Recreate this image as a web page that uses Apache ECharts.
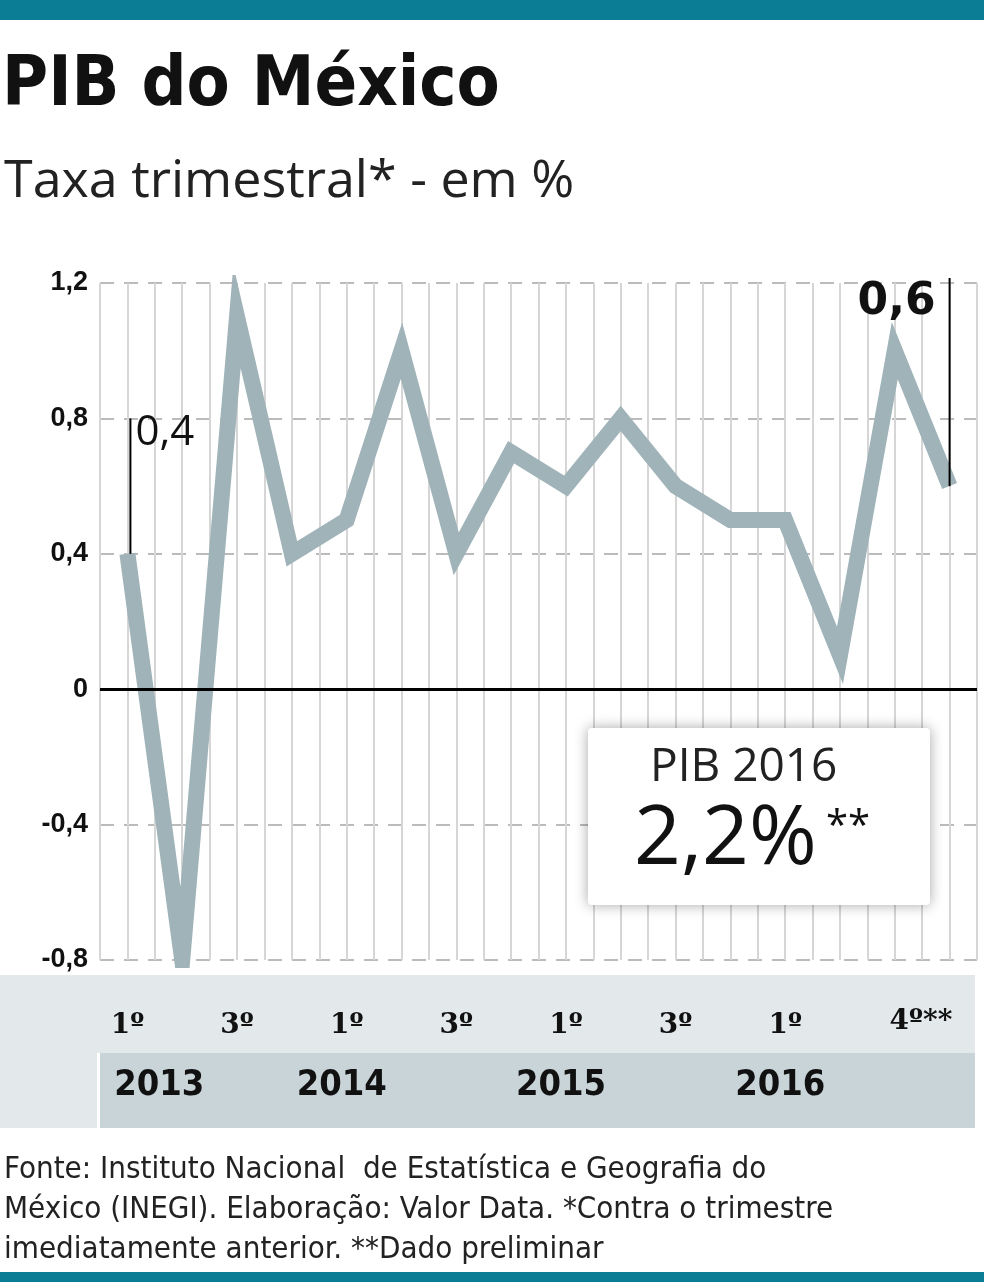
<!DOCTYPE html>
<html lang="pt">
<head>
<meta charset="UTF-8">
<title>PIB do México</title>
<style>
  body { margin: 0; background: #fff; }
  #main { width: 984px; height: 1282px; }
</style>
</head>
<body>
<div id="main"></div>
<script src="https://cdn.jsdelivr.net/npm/echarts@6/dist/echarts.min.js"></script>
<script>
    // quarterly GDP rate, 2013 Q1 .. 2016 Q4
    const values = [0.4, -0.8, 1.1, 0.4, 0.5, 1.0, 0.4, 0.7, 0.6, 0.8, 0.6, 0.5, 0.5, 0.1, 1.0, 0.6];
    const quarterLabels = { 0: '1º', 2: '3º', 4: '1º', 6: '3º', 8: '1º', 10: '3º', 12: '1º' };
    const lastLabel = '4º**';
    const years = [['2013', 0.67], ['2014', 4], ['2015', 8], ['2016', 12]];

    const teal = '#0b7d94';
    const chart = echarts.init(document.getElementById('main'));
    const fmt = v => String(Math.round(v * 10) / 10).replace('.', ',');

    chart.setOption({
        animation: false,
        grid: { left: 100, right: 7, top: 283, bottom: 322 },
        xAxis: {
            type: 'value', min: -0.5, max: 15.5, interval: 0.5,
            axisLine: { show: false }, axisTick: { show: false },
            splitLine: { lineStyle: { color: '#d6d6d6', width: 2 } },
            axisLabel: {
                margin: 52, fontFamily: 'DejaVu Serif', fontWeight: 'bold', fontSize: 28, color: '#111',
                formatter: v => quarterLabels[v] || ''
            }
        },
        yAxis: {
            type: 'value', min: -0.8, max: 1.2, interval: 0.4,
            axisLine: { show: false }, axisTick: { show: false },
            splitLine: { lineStyle: { color: '#bbb', type: [14, 10], width: 2 } },
            axisLabel: {
                margin: 12, fontFamily: 'Liberation Sans', fontWeight: 'bold', fontSize: 27, color: '#111',
                formatter: fmt
            }
        },
        series: [{
            type: 'line',
            data: values.map((v, i) => [i, v]),
            symbol: 'none',
            lineStyle: { color: '#9fb3b9', width: 16, join: 'miter' },
            z: 3,
            markLine: {
                silent: true, symbol: 'none', label: { show: false },
                lineStyle: { color: '#000', type: 'solid', width: 3 },
                data: [{ yAxis: 0 }]
            }
        }],
        graphic: [
            { type: 'rect', shape: { x: 0, y: 0, width: 984, height: 20 }, style: { fill: teal } },
            { type: 'rect', shape: { x: 0, y: 1272, width: 984, height: 10 }, style: { fill: teal } },
            { type: 'text', left: 2, top: 52, style: { text: 'PIB do México', font: 'bold 70px "DejaVu Sans Condensed"', fill: '#111' } },
            { type: 'text', left: 4, top: 156, style: { text: 'Taxa trimestral* - em %', font: '52px "Open Sans"', fill: '#222' } },
            { type: 'rect', z: -1, shape: { x: 0, y: 975, width: 975, height: 78 }, style: { fill: '#e3e8ea' } },
            { type: 'rect', z: -1, shape: { x: 100, y: 1053, width: 875, height: 75 }, style: { fill: '#c9d4d8' } },
            { type: 'rect', z: -1, shape: { x: 0, y: 1053, width: 97, height: 75 }, style: { fill: '#e3e8ea' } },
            { type: 'rect', z: 10, shape: { x: 588, y: 728, width: 342, height: 177, r: 4 },
              style: { fill: '#fff', shadowBlur: 14, shadowColor: 'rgba(0,0,0,0.35)' } },
            { type: 'text', z: 11, left: 650, top: 745, style: { text: 'PIB 2016', font: '46px "Open Sans"', fill: '#222' } },
            { type: 'text', z: 11, left: 634, top: 800, style: { text: '2,2%', font: '82px "Open Sans"', fill: '#111' } },
            { type: 'text', z: 11, left: 826, top: 808, style: { text: '**', font: '40px "Open Sans"', fill: '#111' } },
            { type: 'text', left: 4, top: 1150, style: {
                text: 'Fonte: Instituto Nacional  de Estatística e Geografia do\nMéxico (INEGI). Elaboração: Valor Data. *Contra o trimestre\nimediatamente anterior. **Dado preliminar',
                font: '31px "DejaVu Sans Condensed"', fill: '#222', lineHeight: 40 } }
        ]
    });

    // year labels, last quarter label and value annotations placed through the chart's scales
    const px = (x, y) => chart.convertToPixel({ gridIndex: 0 }, [x, y]);
    const extra = years.map(([t, i]) => ({
        type: 'text', left: px(i, 0)[0] - 50, top: 1068,
        style: { text: t, font: 'bold 36px "DejaVu Sans Condensed"', fill: '#111' }
    }));
    extra.push({ type: 'text', left: px(15, 0)[0] - 60, top: 1008,
        style: { text: lastLabel, font: 'bold 28px "DejaVu Serif"', fill: '#111' } });
    const a0 = px(0, values[0]), a1 = px(15, values[15]);
    extra.push(
        { type: 'line', z: 5, shape: { x1: a0[0] + 3, y1: px(0, 0.8)[1], x2: a0[0] + 3, y2: a0[1] }, style: { stroke: '#000', lineWidth: 2 } },
        { type: 'text', z: 5, left: a0[0] + 8, top: px(0, 0.8)[1] - 6, style: { text: fmt(values[0]), font: '42px "Open Sans"', fill: '#111' } },
        { type: 'line', z: 5, shape: { x1: a1[0], y1: px(0, 1.2)[1] - 5, x2: a1[0], y2: a1[1] }, style: { stroke: '#000', lineWidth: 2 } },
        { type: 'text', z: 5, left: a1[0] - 92, top: px(0, 1.2)[1] - 2, style: { text: fmt(values[15]), font: 'bold 44px "DejaVu Sans"', fill: '#111' } }
    );
    chart.setOption({ graphic: chart.getOption().graphic[0].elements.concat(extra) });
</script>
</body>
</html>
